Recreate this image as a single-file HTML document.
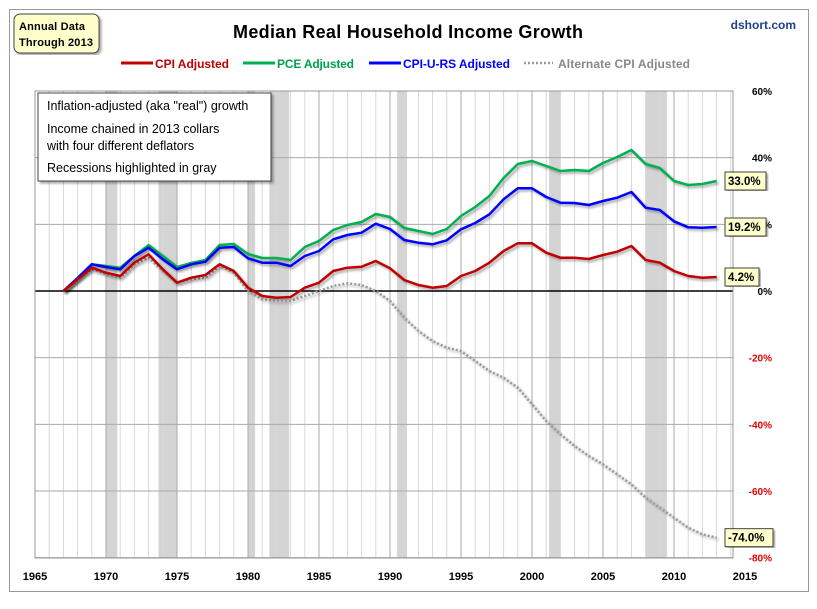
<!DOCTYPE html>
<html><head><meta charset="utf-8"><style>
body{margin:0;background:#fff;font-family:"Liberation Sans",sans-serif;}
</style></head><body>
<svg id="chart" width="817" height="604" xmlns="http://www.w3.org/2000/svg" font-family="Liberation Sans, sans-serif">
<defs><filter id="sh" x="-5%" y="-5%" width="110%" height="110%"><feDropShadow dx="2" dy="2" stdDeviation="1.2" flood-color="#000" flood-opacity="0.35"/></filter></defs>
<rect x="9.5" y="9.5" width="799" height="582" fill="#fff" stroke="#999"/>
<g id="bands"></g><g id="grid"></g><g id="series"></g><g id="labels"></g>
<rect x="14" y="14" width="85" height="39" rx="6" fill="#ffffcc" stroke="#444" filter="url(#sh)"/>
<text x="19" y="30" font-size="11" font-weight="bold" textLength="66">Annual Data</text>
<text x="19" y="46" font-size="11" font-weight="bold" textLength="74">Through 2013</text>
<text x="408" y="38" font-size="18" font-weight="bold" text-anchor="middle" textLength="350">Median Real Household Income Growth</text>
<text x="796" y="29" font-size="12" font-weight="bold" fill="#1f3f8f" text-anchor="end">dshort.com</text>
<g font-size="12" font-weight="bold">
<line x1="121" y1="63" x2="153" y2="63" stroke="#c00000" stroke-width="3"/><text x="155" y="68" fill="#c00000" textLength="74">CPI Adjusted</text>
<line x1="243" y1="63" x2="275" y2="63" stroke="#00b050" stroke-width="3"/><text x="277" y="68" fill="#00a050" textLength="77">PCE Adjusted</text>
<line x1="369" y1="63" x2="401" y2="63" stroke="#0000ff" stroke-width="3"/><text x="403" y="68" fill="#0000ff" textLength="107">CPI-U-RS Adjusted</text>
<line x1="524" y1="63" x2="553" y2="63" stroke="#999" stroke-width="2.5" stroke-dasharray="2,2"/><text x="558" y="68" fill="#888" textLength="132">Alternate CPI Adjusted</text>
</g>
<rect x="38" y="93" width="233" height="88" fill="#fff" stroke="#444" filter="url(#sh)"/>
<g font-size="12.5" fill="#000">
<text x="47" y="110">Inflation-adjusted (aka "real") growth</text>
<text x="47" y="133">Income chained in 2013 collars</text>
<text x="47" y="150">with four different deflators</text>
<text x="47" y="172">Recessions highlighted in gray</text>
</g>
</svg>
<script>
const years=[];for(let y=1967;y<=2013;y++)years.push(y);
const pce=[0,3.9,8,7.5,7,10.5,13.8,10.5,7.2,8.4,9.3,13.8,14.1,11.1,9.9,9.9,9.3,13.2,15,18.3,19.8,20.7,23.1,22.2,18.9,18,17.1,18.6,22.5,25.2,28.5,33.9,38.1,39,37.5,36,36.3,36,38.4,40.2,42.3,38.1,36.9,33,31.8,32.1,33];
const cpiurs=[0,3.9,8,7.2,6.5,10.5,13,9.5,6.5,8,8.8,13,13.2,9.8,8.5,8.5,7.5,10.5,12,15.5,16.8,17.5,20.2,18.6,15.3,14.5,14,15.2,18.5,20.4,23,27.5,30.8,30.8,28.2,26.5,26.4,25.8,27,28,29.7,25,24.3,20.9,19.1,19,19.2];
const cpi=[0,3.5,7,5.5,4.5,8.5,11,6.5,2.5,4,4.8,8,6,1,-1.5,-2,-1.8,1,2.5,6,7,7.3,9,6.8,3.3,1.8,1,1.5,4.5,6,8.5,12,14.3,14.3,11.5,10,10,9.6,10.8,11.8,13.5,9.3,8.5,6,4.5,4,4.2];
const altcpi=[0,3.5,6.5,5,4,8,10,6,2.5,3.5,4,7.5,5.5,0,-2.5,-3,-3,-1.5,0,1.5,2.3,1.8,0,-3,-8,-12,-15,-17,-18,-21,-24,-26,-29,-34,-39,-43,-46.5,-49.5,-52,-55,-58,-62,-65,-68,-71,-73,-74];
const recessions=[[1970,1970.8],[1973.7,1975],[1980,1980.5],[1981.5,1982.9],[1990.5,1991.2],[2001.2,2002],[2008,2009.5]];
const yTicks=[60,40,20,0,-20,-40,-60,-80];
const xTicks=[1965,1970,1975,1980,1985,1990,1995,2000,2005,2010,2015];
const L=35,R=733,T=91,B=558;
const x=v=>L+(v-1965)*14.2, y=v=>291-(v)*(200/60);
const NS='http://www.w3.org/2000/svg';
function mk(tag,attrs,parent,txt){const e=document.createElementNS(NS,tag);for(const k in attrs)e.setAttribute(k,attrs[k]);if(txt!==undefined)e.textContent=txt;document.getElementById(parent).appendChild(e);return e;}
recessions.forEach(r=>{const e=mk('rect',{x:x(r[0]),y:T,width:x(r[1])-x(r[0]),height:B-T,fill:'#d4d4d4'},'bands');

});
for(let yr=1966;yr<=2014;yr++){const five=yr%5===0;const e=mk('line',{x1:x(yr),x2:x(yr),y1:T,y2:B,stroke:five?'#aaa':'#d8d8d8','stroke-width':1},'grid');

}
yTicks.forEach(t=>{const e=mk('line',{x1:L,x2:R,y1:y(t),y2:y(t),stroke:t===0?'#000':'#aaa','stroke-width':t===0?1.5:1},'grid');


const l=mk('text',{x:772,y:y(t)+4,'font-size':10,'font-weight':'bold','text-anchor':'end',fill:t<0?'#e00000':'#000'},'labels',t+'%');

});
{const e=mk('rect',{x:L,y:T,width:R-L,height:B-T,fill:'none',stroke:'#999'},'grid');

}
xTicks.forEach(t=>{const l=mk('text',{x:x(t),y:580,'font-size':11,'font-weight':'bold','text-anchor':'middle'},'labels',String(t));

});
function line(vals,color,w,dash,name){const d=vals.map((v,i)=>(i?'L':'M')+x(years[i]).toFixed(1)+','+y(v).toFixed(1)).join('');
const a={d:d,fill:'none',stroke:color,'stroke-width':w,'stroke-linejoin':'round',filter:'url(#sh)'};if(dash)a['stroke-dasharray']=dash;
const e=mk('path',a,'series');

}
line(altcpi,'#999',2.5,'2,2','alt-cpi-line');
line(pce,'#00b050',2.5,null,'pce-line');
line(cpiurs,'#0000ff',2.5,null,'cpi-u-rs-line');
line(cpi,'#c00000',2.5,null,'cpi-line');
function callout(v,name){const last=v[v.length-1];const txt=last.toFixed(1)+'%';const w=txt.length*7+6;
const g=mk('g',{},'labels');
const r=document.createElementNS(NS,'rect');[['x',725],['y',y(last)-9],['width',w],['height',18],['fill','#ffffcc'],['stroke','#444'],['filter','url(#sh)']].forEach(p=>r.setAttribute(p[0],p[1]));g.appendChild(r);
const t=document.createElementNS(NS,'text');[['x',728],['y',y(last)+4],['font-size',11.5],['font-weight','bold']].forEach(p=>t.setAttribute(p[0],p[1]));t.textContent=txt;g.appendChild(t);}
callout(pce,'pce-end-label');callout(cpiurs,'cpi-u-rs-end-label');callout(cpi,'cpi-end-label');callout(altcpi,'alt-cpi-end-label');
</script>
</body></html>
